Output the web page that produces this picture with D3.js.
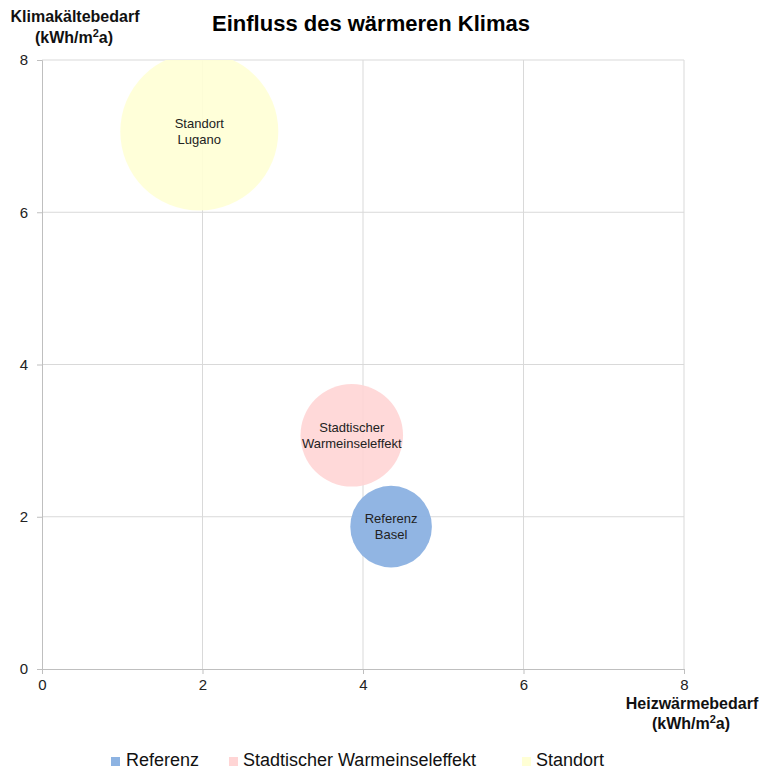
<!DOCTYPE html>
<html>
<head>
<meta charset="utf-8">
<script src="https://cdn.jsdelivr.net/npm/d3@7/dist/d3.min.js"></script>
<style>
  body { margin: 0; background: #fff; }
  text { font-family: "Liberation Sans", Arial, sans-serif; }
</style>
</head>
<body>
<svg id="chart"></svg>
<script>
// data
var series = ['Referenz', 'Stadtischer Warmeinseleffekt', 'Standort']
var labels = [['Referenz', 'Basel'], ['Stadtischer', 'Warmeinseleffekt'], ['Standort', 'Lugano']]
var heizValues = [4.35, 3.86, 1.96]
var kaelteValues = [1.87, 3.07, 7.06]
var bubbleSizes = [1.0, 1.58, 3.75]
var xTicks = [0, 2, 4, 6, 8]
var yTicks = [0, 2, 4, 6, 8]
var colors = ['#8db3e2', '#ffd5d5', '#ffffd5']

var width = 759, height = 769
var margin = { left: 42, right: 75, top: 60, bottom: 100 }

var svg = d3.select('#chart').attr('width', width).attr('height', height)

var x = d3.scaleLinear().domain([0, 8]).range([margin.left, width - margin.right])
var y = d3.scaleLinear().domain([0, 8]).range([height - margin.bottom, margin.top])
var r = d3.scaleSqrt().domain([0, d3.max(bubbleSizes)]).range([0, 79])

svg.append('defs').append('clipPath').attr('id', 'plot')
  .append('rect')
  .attr('x', x(0)).attr('y', y(8))
  .attr('width', x(8) - x(0)).attr('height', y(0) - y(8))

// grid
svg.append('g').selectAll('line.v').data(xTicks.slice(1)).enter().append('line')
  .attr('x1', d => x(d)).attr('x2', d => x(d))
  .attr('y1', y(0)).attr('y2', y(8))
  .attr('stroke', '#d9d9d9')
svg.append('g').selectAll('line.h').data(yTicks.slice(1)).enter().append('line')
  .attr('x1', x(0)).attr('x2', x(8))
  .attr('y1', d => y(d)).attr('y2', d => y(d))
  .attr('stroke', '#d9d9d9')

// axes
var xAxis = svg.append('g')
  .attr('transform', 'translate(0,' + y(0) + ')')
  .call(d3.axisBottom(x).tickValues(xTicks).tickSize(5).tickPadding(5))
var yAxis = svg.append('g')
  .attr('transform', 'translate(' + x(0) + ',0)')
  .call(d3.axisLeft(y).tickValues(yTicks).tickSize(5).tickPadding(9))
;[xAxis, yAxis].forEach(function(a) {
  a.select('.domain').attr('stroke', '#bfbfbf')
  a.selectAll('.tick line').attr('stroke', '#bfbfbf')
  a.selectAll('.tick text').attr('font-size', 15).attr('fill', '#222')
    .style('font-family', '"Liberation Sans", Arial, sans-serif')
})

// bubbles
var idx = d3.range(series.length)
var bubbles = svg.append('g').attr('clip-path', 'url(#plot)')
bubbles.selectAll('circle').data(idx).enter().append('circle')
  .attr('cx', i => x(heizValues[i]))
  .attr('cy', i => y(kaelteValues[i]))
  .attr('r', i => r(bubbleSizes[i]))
  .attr('fill', i => colors[i])
  .attr('fill-opacity', i => i === 0 ? 0.97 : 0.9)

var lbl = svg.append('g').selectAll('text').data(idx).enter().append('text')
  .attr('x', i => x(heizValues[i]))
  .attr('y', i => y(kaelteValues[i]))
  .attr('text-anchor', 'middle')
  .attr('font-size', 13)
  .attr('fill', '#222')
lbl.each(function(i) {
  var t = d3.select(this)
  labels[i].forEach(function(s, k) {
    t.append('tspan').attr('x', x(heizValues[i]))
      .attr('dy', k === 0 ? '-0.25em' : '1.2em').text(s)
  })
})

// titles
svg.append('text').attr('x', 371).attr('y', 31)
  .attr('text-anchor', 'middle').attr('font-size', 22).attr('font-weight', 'bold')
  .text('Einfluss des wärmeren Klimas')

var yt = svg.append('text').attr('text-anchor', 'middle')
  .attr('font-size', 16).attr('font-weight', 'bold').attr('fill', '#111')
yt.append('tspan').attr('x', 75).attr('y', 22).text('Klimakältebedarf')
var yt2 = svg.append('text').attr('text-anchor', 'middle')
  .attr('font-size', 16).attr('font-weight', 'bold').attr('fill', '#111')
  .attr('x', 74).attr('y', 43)
yt2.append('tspan').text('(kWh/m')
yt2.append('tspan').attr('dy', -6).attr('font-size', 11).text('2')
yt2.append('tspan').attr('dy', 6).text('a)')

var xt = svg.append('text').attr('text-anchor', 'middle')
  .attr('font-size', 16).attr('font-weight', 'bold').attr('fill', '#111')
  .attr('x', 692).attr('y', 709).text('Heizwärmebedarf')
var xt2 = svg.append('text').attr('text-anchor', 'middle')
  .attr('font-size', 16).attr('font-weight', 'bold').attr('fill', '#111')
  .attr('x', 691).attr('y', 729)
xt2.append('tspan').text('(kWh/m')
xt2.append('tspan').attr('dy', -6).attr('font-size', 11).text('2')
xt2.append('tspan').attr('dy', 6).text('a)')

// legend
var legendX = [111, 229, 522]
var leg = svg.append('g').selectAll('g').data(idx).enter().append('g')
  .attr('transform', i => 'translate(' + legendX[i] + ',766)')
leg.append('rect').attr('x', 0).attr('y', -9).attr('width', 9).attr('height', 9)
  .attr('fill', i => colors[i])
leg.append('text').attr('x', i => i === 0 ? 15 : 14).attr('y', 0)
  .attr('font-size', 18).attr('fill', '#111')
  .text(i => series[i])
</script>
</body>
</html>
